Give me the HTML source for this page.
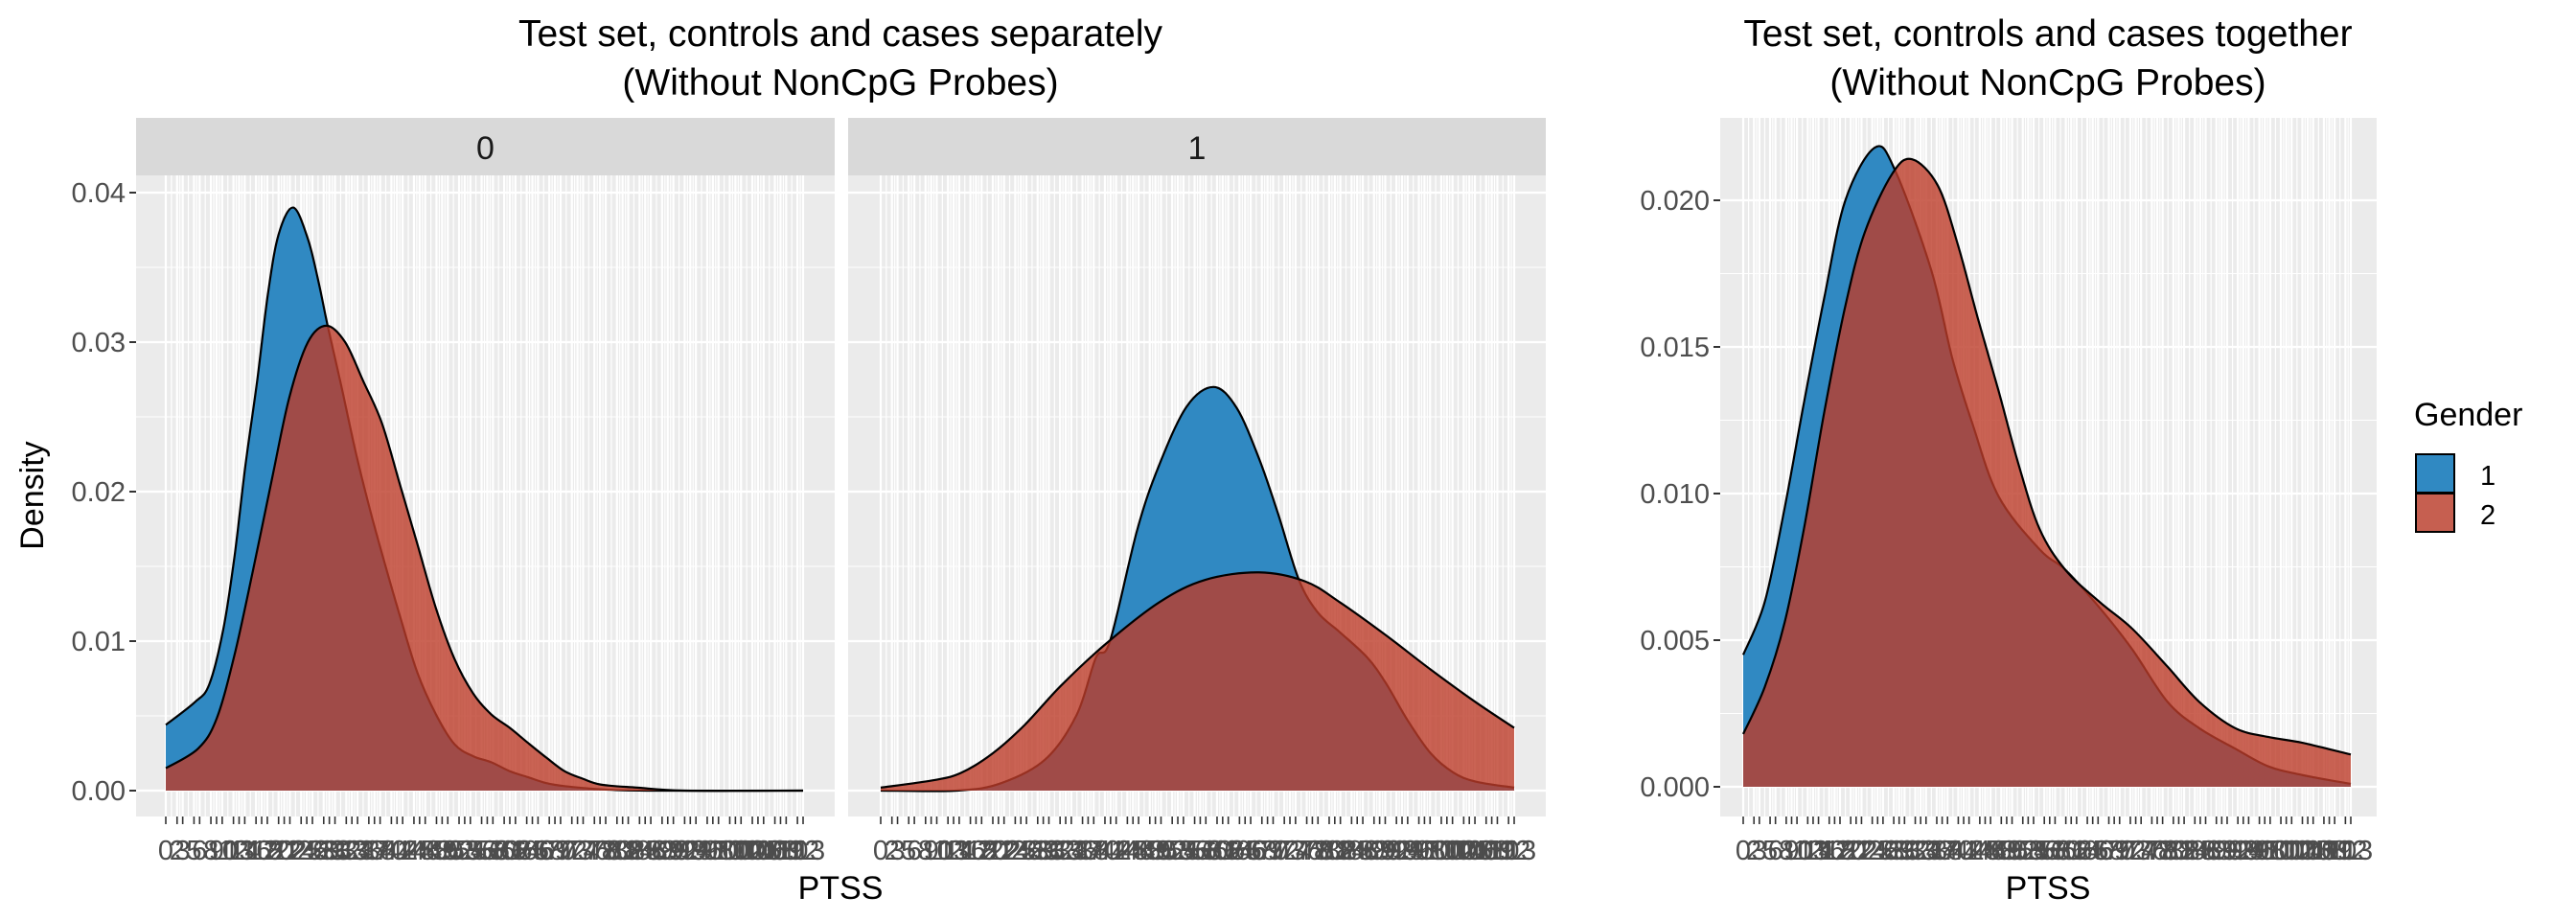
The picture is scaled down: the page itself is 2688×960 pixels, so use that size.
<!DOCTYPE html>
<html><head><meta charset="utf-8"><style>
html,body{margin:0;padding:0;background:#fff}
svg{display:block;font-family:"Liberation Sans",sans-serif}
</style></head><body>
<svg id="chart" width="2688" height="960" viewBox="0 0 2688 960" xmlns="http://www.w3.org/2000/svg">
<text x="877" y="48" font-size="39" text-anchor="middle">Test set, controls and cases separately</text>
<text x="877" y="99" font-size="39" text-anchor="middle">(Without NonCpG Probes)</text>
<text x="2137" y="48" font-size="39" text-anchor="middle">Test set, controls and cases together</text>
<text x="2137" y="99" font-size="39" text-anchor="middle">(Without NonCpG Probes)</text>
<text transform="translate(45,517) rotate(-90)" font-size="34" text-anchor="middle">Density</text>
<text x="877" y="938" font-size="34" text-anchor="middle">PTSS</text>
<text x="2137" y="938" font-size="34" text-anchor="middle">PTSS</text>
<g>
<text x="2519" y="444" font-size="34">Gender</text>
<rect x="2521" y="474" width="40" height="40" fill="#3089C2" stroke="#000" stroke-width="2"/>
<rect x="2521" y="515" width="40" height="40" fill="#C65F50" stroke="#000" stroke-width="2"/>
<text x="2588" y="506" font-size="29">1</text>
<text x="2588" y="547" font-size="29">2</text>
</g>
<g id="plots"></g>
</svg>
<script>
const xTicks = [0,2,3,5,6,8,9,10,12,13,14,16,17,18,20,21,22,24,25,26,28,29,30,32,33,34,36,37,38,40,41,42,44,45,46,48,49,50,52,53,54,56,57,58,60,61,62,64,65,66,68,69,70,72,73,74,76,77,78,80,81,82,84,85,86,88,89,90,92,93,94,96,97,98,100,101,102,104,105,106,108,109,110,112,113];
const yTicksFacet = [0,0.01,0.02,0.03,0.04];
const yLabelsFacet = ["0.00","0.01","0.02","0.03","0.04"];
const yTicksAll = [0,0.005,0.010,0.015,0.020];
const yLabelsAll = ["0.000","0.005","0.010","0.015","0.020"];
// Facet 0
const f0Gender1X = [0,5.1,7.7,10.2,12.2,14.1,16.2,18.1,20,22.6,25.2,27.1,28.7,31.1,33.7,36.2,38.9,41.5,44.6,47.9,51.2,54.5,57.7,61,64.2,67.5,70.7,76.8,85,113];
const f0Gender1Y = [0.0044,0.0059,0.0071,0.0108,0.0157,0.0217,0.0274,0.0332,0.0372,0.039,0.0369,0.034,0.0311,0.0271,0.0226,0.0188,0.0151,0.0117,0.0079,0.0051,0.0031,0.0023,0.0019,0.0013,0.0009,0.0005,0.0003,0.0001,0,0];
const f0Gender2X = [0,5.7,9,12.2,15.5,18.8,21.9,25.2,28.5,31.8,35,38.3,41.5,44.6,47.9,51.2,54.5,57.7,61,64.2,67.5,70.7,73.9,77.2,83.6,92,113];
const f0Gender2Y = [0.0015,0.0028,0.0048,0.0091,0.0148,0.0208,0.0263,0.030,0.0311,0.030,0.0274,0.0246,0.0205,0.0165,0.0122,0.0088,0.0065,0.0051,0.0042,0.0032,0.0022,0.0013,0.0008,0.0004,0.0002,0,0];
// Facet 1
const f1Gender1X = [0,13.6,21.5,29.4,35,38.4,40.9,45.8,49.7,54.6,59.4,63.5,67.5,70.9,74.6,78,81.9,86.8,90.1,94,98.1,102.2,106.2,113];
const f1Gender1Y = [0,0,0.0005,0.0021,0.0051,0.0089,0.010,0.0175,0.0218,0.0257,0.027,0.0256,0.0222,0.0185,0.0141,0.0119,0.0106,0.0089,0.0072,0.0047,0.0025,0.0012,0.0006,0.0002];
const f1Gender2X = [0,9.5,14.4,20,25.7,32.1,40.1,49.7,57.9,67.5,75.7,81.9,90.1,98.1,106.2,113];
const f1Gender2Y = [0.0002,0.0007,0.0012,0.0025,0.0044,0.007,0.0098,0.0126,0.0141,0.0146,0.014,0.0126,0.0104,0.0081,0.0059,0.0042];
// Together
const allGender1X = [0,4,7.7,11.3,15.1,19,24.5,28.3,35,38.9,42.6,47.5,55.1,59.9,66.3,72.3,78.9,84.8,91.5,97.6,104,113];
const allGender1Y = [0.0045,0.0063,0.0095,0.0131,0.0167,0.020,0.0218,0.021,0.0176,0.0146,0.0124,0.0099,0.0081,0.0074,0.0061,0.0047,0.0029,0.002,0.0013,0.0007,0.0004,0.0001];
const allGender2X = [0,4,7.7,11.3,15.1,19,22.6,27.7,31.4,36.2,39.9,43.6,47.5,51.2,55.1,59.9,66.3,72.3,78.9,84.8,91.5,97.6,104,113];
const allGender2Y = [0.0018,0.0034,0.0056,0.0088,0.0128,0.0164,0.0189,0.0209,0.0214,0.0205,0.0185,0.016,0.0135,0.011,0.0088,0.0074,0.0063,0.0054,0.0041,0.0029,0.002,0.0017,0.0015,0.0011];

const NS = "http://www.w3.org/2000/svg";
const root = document.getElementById('plots');
function mk(tag, attrs, parent){ const e=document.createElementNS(NS,tag); for(const k in attrs) e.setAttribute(k,attrs[k]); (parent||root).appendChild(e); return e; }

function smoothPath(pts){
  let d = `M${pts[0][0]},${pts[0][1]}`;
  for(let i=0;i<pts.length-1;i++){
    const p0=pts[Math.max(0,i-1)], p1=pts[i], p2=pts[i+1], p3=pts[Math.min(pts.length-1,i+2)];
    const c1x=p1[0]+(p2[0]-p0[0])/6, c1y=p1[1]+(p2[1]-p0[1])/6;
    const c2x=p2[0]-(p3[0]-p1[0])/6, c2y=p2[1]-(p3[1]-p1[1])/6;
    d += ` C${c1x},${c1y} ${c2x},${c2y} ${p2[0]},${p2[1]}`;
  }
  return d;
}

function panel(cfg){
  const g = mk('g',{});
  
  
  const {x0,x1,top,bottom,dx0,dx1,y0px,yMax,yMaxPx} = cfg;
  const sx = v => dx0 + (v-0)/(113-0)*(dx1-dx0);
  const sy = v => Math.min(y0px, y0px - v/yMax*(y0px-yMaxPx));
  const bg = mk('rect',{x:x0,y:top,width:x1-x0,height:bottom-top,fill:'#EBEBEB'},g);
  
  
  for(let i=0;i<cfg.yt.length-1;i++){
    const v=(cfg.yt[i]+cfg.yt[i+1])/2;
    mk('line',{x1:x0,x2:x1,y1:sy(v),y2:sy(v),stroke:'#fff','stroke-width':1},g);
  }
  for(let i=0;i<xTicks.length-1;i++){
    const v=(xTicks[i]+xTicks[i+1])/2;
    mk('line',{x1:sx(v),x2:sx(v),y1:top,y2:bottom,stroke:'#fff','stroke-width':1.2},g);
  }
  xTicks.forEach(v=>{ mk('line',{x1:sx(v),x2:sx(v),y1:top,y2:bottom,stroke:'#fff','stroke-width':2.2},g); });
  cfg.yt.forEach(v=>{ mk('line',{x1:x0,x2:x1,y1:sy(v),y2:sy(v),stroke:'#fff','stroke-width':2.2},g); });
  [[cfg.g1x,cfg.g1y,'#3089C2',1,'density-gender-1'],[cfg.g2x,cfg.g2y,'rgb(189,60,41)',0.8,'density-gender-2']].forEach(([xs,ys,col,op,nm])=>{
    const pts = xs.map((v,i)=>[sx(v), sy(ys[i])]);
    const curve = smoothPath(pts);
    const fill = mk('path',{d:curve+` L${pts[pts.length-1][0]},${y0px} L${pts[0][0]},${y0px} Z`,fill:col,'fill-opacity':op},g);
    
    
    const line = mk('path',{d:curve,fill:'none',stroke:'#000','stroke-width':2.2},g);
    
    
  });
  if(cfg.ylabels){
    cfg.yt.forEach((v,i)=>{
      mk('line',{x1:x0-7,x2:x0,y1:sy(v),y2:sy(v),stroke:'#333','stroke-width':2},g);
      const t = mk('text',{x:x0-11,y:sy(v)+10,'font-size':29,'text-anchor':'end',fill:'#4D4D4D'},g);
      t.textContent = cfg.ylabels[i];
      
      
    });
  }
  xTicks.forEach(v=>{
    mk('line',{x1:sx(v),x2:sx(v),y1:bottom,y2:bottom+8,stroke:'#333','stroke-width':1.6},g);
    const t = mk('text',{x:sx(v),y:bottom+45,'font-size':29,'text-anchor':'middle',fill:'#4D4D4D'},g);
    t.textContent = String(v);
    
    
  });
  if(cfg.strip){
    const s = mk('rect',{x:x0,y:123,width:x1-x0,height:60,fill:'#D9D9D9'},g);
    
    
    const st = mk('text',{x:(x0+x1)/2,y:166,'font-size':34,'text-anchor':'middle',fill:'#1A1A1A'},g);
    st.textContent = cfg.strip;
    
    
  }
}

panel({name:'facet-0',x0:142,x1:871,top:183,bottom:852,dx0:173,dx1:838,y0px:825,yMax:0.04,yMaxPx:201,yt:yTicksFacet,ylabels:yLabelsFacet,strip:'0',g1x:f0Gender1X,g1y:f0Gender1Y,g2x:f0Gender2X,g2y:f0Gender2Y});
panel({name:'facet-1',x0:885,x1:1613,top:183,bottom:852,dx0:919,dx1:1580,y0px:825,yMax:0.04,yMaxPx:201,yt:yTicksFacet,ylabels:null,strip:'1',g1x:f1Gender1X,g1y:f1Gender1Y,g2x:f1Gender2X,g2y:f1Gender2Y});
panel({name:'panel-together',x0:1795,x1:2480,top:123,bottom:852,dx0:1819,dx1:2453,y0px:821,yMax:0.02,yMaxPx:209,yt:yTicksAll,ylabels:yLabelsAll,strip:null,g1x:allGender1X,g1y:allGender1Y,g2x:allGender2X,g2y:allGender2Y});
</script>
</body></html>
